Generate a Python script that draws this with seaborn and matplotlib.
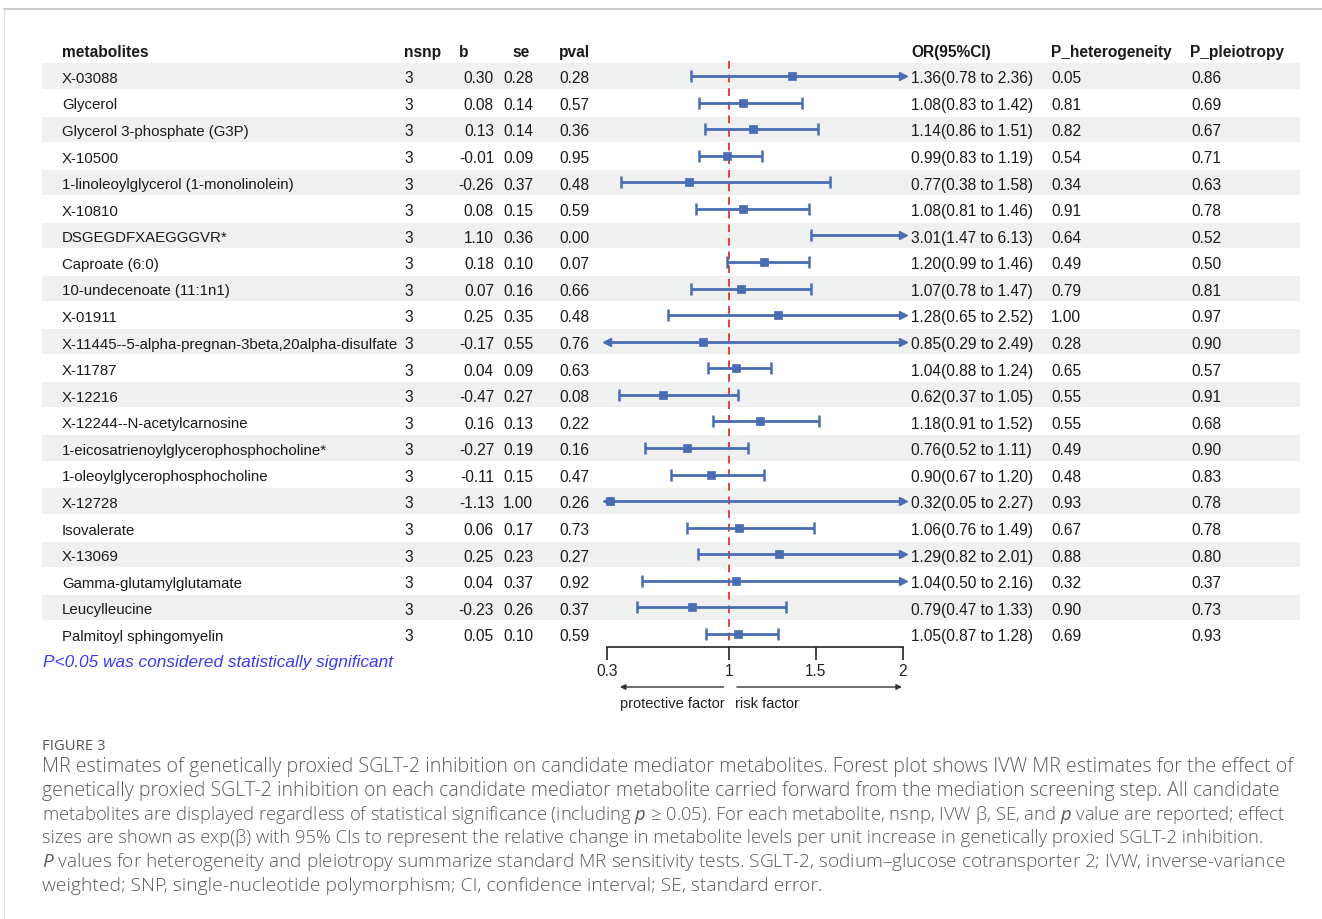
import matplotlib.pyplot as plt
import seaborn as sns
import pandas as pd
from matplotlib.lines import Line2D

metabolites = ["X-03088", "Glycerol", "Glycerol 3-phosphate (G3P)", "X-10500",
               "1-linoleoylglycerol (1-monolinolein)", "X-10810", "DSGEGDFXAEGGGVR*",
               "Caproate (6:0)", "10-undecenoate (11:1n1)", "X-01911",
               "X-11445--5-alpha-pregnan-3beta,20alpha-disulfate", "X-11787", "X-12216",
               "X-12244--N-acetylcarnosine", "1-eicosatrienoylglycerophosphocholine*",
               "1-oleoylglycerophosphocholine", "X-12728", "Isovalerate", "X-13069",
               "Gamma-glutamylglutamate", "Leucylleucine", "Palmitoyl sphingomyelin"]
nsnp = [3, 3, 3, 3, 3, 3, 3, 3, 3, 3, 3, 3, 3, 3, 3, 3, 3, 3, 3, 3, 3, 3]
b = [0.30, 0.08, 0.13, -0.01, -0.26, 0.08, 1.10, 0.18, 0.07, 0.25, -0.17,
     0.04, -0.47, 0.16, -0.27, -0.11, -1.13, 0.06, 0.25, 0.04, -0.23, 0.05]
se = [0.28, 0.14, 0.14, 0.09, 0.37, 0.15, 0.36, 0.10, 0.16, 0.35, 0.55,
      0.09, 0.27, 0.13, 0.19, 0.15, 1.00, 0.17, 0.23, 0.37, 0.26, 0.10]
pval = [0.28, 0.57, 0.36, 0.95, 0.48, 0.59, 0.00, 0.07, 0.66, 0.48, 0.76,
        0.63, 0.08, 0.22, 0.16, 0.47, 0.26, 0.73, 0.27, 0.92, 0.37, 0.59]
or_est = [1.36, 1.08, 1.14, 0.99, 0.77, 1.08, 3.01, 1.20, 1.07, 1.28, 0.85,
          1.04, 0.62, 1.18, 0.76, 0.90, 0.32, 1.06, 1.29, 1.04, 0.79, 1.05]
or_low = [0.78, 0.83, 0.86, 0.83, 0.38, 0.81, 1.47, 0.99, 0.78, 0.65, 0.29,
          0.88, 0.37, 0.91, 0.52, 0.67, 0.05, 0.76, 0.82, 0.50, 0.47, 0.87]
or_high = [2.36, 1.42, 1.51, 1.19, 1.58, 1.46, 6.13, 1.46, 1.47, 2.52, 2.49,
           1.24, 1.05, 1.52, 1.11, 1.20, 2.27, 1.49, 2.01, 2.16, 1.33, 1.28]
p_het = [0.05, 0.81, 0.82, 0.54, 0.34, 0.91, 0.64, 0.49, 0.79, 1.00, 0.28,
         0.65, 0.55, 0.55, 0.49, 0.48, 0.93, 0.67, 0.88, 0.32, 0.90, 0.69]
p_pleio = [0.86, 0.69, 0.67, 0.71, 0.63, 0.78, 0.52, 0.50, 0.81, 0.97, 0.90,
           0.57, 0.91, 0.68, 0.90, 0.83, 0.78, 0.78, 0.80, 0.37, 0.73, 0.93]
x_ticks = [0.3, 1, 1.5, 2]
x_tick_labels = ["0.3", "1", "1.5", "2"]

caption = [
    "MR estimates of genetically proxied SGLT-2 inhibition on candidate mediator metabolites. Forest plot shows IVW MR estimates for the effect of",
    "genetically proxied SGLT-2 inhibition on each candidate mediator metabolite carried forward from the mediation screening step. All candidate",
    "metabolites are displayed regardless of statistical significance (including $p$ \u2265 0.05). For each metabolite, nsnp, IVW \u03b2, SE, and $p$ value are reported; effect",
    "sizes are shown as exp(\u03b2) with 95% CIs to represent the relative change in metabolite levels per unit increase in genetically proxied SGLT-2 inhibition.",
    "$P$ values for heterogeneity and pleiotropy summarize standard MR sensitivity tests. SGLT-2, sodium\u2013glucose cotransporter 2; IVW, inverse-variance",
    "weighted; SNP, single-nucleotide polymorphism; CI, confidence interval; SE, standard error.",
]
# right edge (px) of each caption line in the reference
caption_right = [1287, 1278, 1289, 1257, 1289, 818]

sns.set_theme(style="white")
plt.rcParams["font.family"] = ["Liberation Sans", "DejaVu Sans"]
plt.rcParams["mathtext.fontset"] = "custom"
plt.rcParams["mathtext.it"] = "Open Sans:italic"
plt.rcParams["mathtext.rm"] = "Open Sans"

df = pd.DataFrame({"name": metabolites, "nsnp": nsnp, "b": b, "se": se, "pval": pval,
                   "or_est": or_est, "or_low": or_low, "or_high": or_high,
                   "p_het": p_het, "p_pleio": p_pleio})
df["row"] = range(len(df))

W, H = 1322, 920
fig = plt.figure(figsize=(W / 100, H / 100), dpi=100)
fig.patch.set_facecolor("white")

# rows: centre of row 0 at 77px, pitch 26.57px
pitch = 26.57
top_px = 77 - 1.5 * pitch
bot_px = 77 + 21.5 * pitch
ax_bottom = 1 - bot_px / H
ax_height = (bot_px - top_px) / H

ylim = (len(df) - 0.5, -1.5)

# table axes, x in pixels
axt = fig.add_axes([0, ax_bottom, 1, ax_height], zorder=0)
axt.set_xlim(0, W)
axt.set_ylim(*ylim)
axt.axis("off")

shade = df[df["row"] % 2 == 0]
axt.barh(shade["row"], 1258, left=42, height=0.95, color="#eff1f1", linewidth=0)

fs = 11.2
fs_name = 10.8
txt = "#1a1a1a"
dy = 0.07  # text sits a touch lower than the row centre
headers = [("metabolites", 62), ("nsnp", 404), ("b", 459), ("se", 512), ("pval", 559),
           ("OR(95%CI)", 911), ("P_heterogeneity", 1051), ("P_pleiotropy", 1190)]
for label, x in headers:
    axt.text(x, -1 + dy, label, ha="left", va="center", fontsize=fs,
             fontweight="bold", color=txt)

for _, r in df.iterrows():
    y = r["row"] + dy
    axt.text(62, y, r["name"], ha="left", va="center", fontsize=fs_name, color=txt)
    axt.text(404, y, f"{r['nsnp']}", ha="left", va="center", fontsize=fs, color=txt)
    axt.text(494, y, f"{r['b']:.2f}", ha="right", va="center", fontsize=fs, color=txt)
    axt.text(533, y, f"{r['se']:.2f}", ha="right", va="center", fontsize=fs, color=txt)
    axt.text(559, y, f"{r['pval']:.2f}", ha="left", va="center", fontsize=fs, color=txt)
    axt.text(911, y, f"{r['or_est']:.2f}({r['or_low']:.2f} to {r['or_high']:.2f})",
             ha="left", va="center", fontsize=fs, color=txt)
    axt.text(1051, y, f"{r['p_het']:.2f}", ha="left", va="center", fontsize=fs, color=txt)
    axt.text(1191, y, f"{r['p_pleio']:.2f}", ha="left", va="center", fontsize=fs, color=txt)

# forest axes
xmin, xmax = 0.3, 2.0
axf = fig.add_axes([607 / W, ax_bottom, (903 - 607) / W, ax_height], zorder=1)
axf.patch.set_alpha(0)
blue = "#4a6cb3"

df["lo_c"] = df["or_low"].clip(lower=xmin)
df["hi_c"] = df["or_high"].clip(upper=xmax)

axf.vlines(1, -0.55, len(df) - 0.5, colors="#e8403c", linestyles=(0, (4, 3)), lw=1.4, zorder=1)
axf.hlines(df["row"], df["lo_c"], df["hi_c"], colors=blue, lw=2, zorder=2)

cap_lo = df[df["or_low"] >= xmin]
cap_hi = df[df["or_high"] <= xmax]
axf.plot(cap_lo["or_low"], cap_lo["row"], ls="none", marker="|", ms=9, mew=1.8,
         color=blue, clip_on=False, zorder=3)
axf.plot(cap_hi["or_high"], cap_hi["row"], ls="none", marker="|", ms=9, mew=1.8,
         color=blue, clip_on=False, zorder=3)

arr_lo = df[df["or_low"] < xmin]
arr_hi = df[df["or_high"] > xmax]
axf.plot(arr_lo["lo_c"], arr_lo["row"], ls="none", marker="<", ms=6, color=blue,
         clip_on=False, zorder=3)
axf.plot(arr_hi["hi_c"], arr_hi["row"], ls="none", marker=">", ms=6, color=blue,
         clip_on=False, zorder=3)

inside = df[(df["or_est"] >= xmin) & (df["or_est"] <= xmax)]
sns.scatterplot(data=inside, x="or_est", y="row", marker="s", s=32, color=blue,
                edgecolor=blue, linewidth=0.5, ax=axf, zorder=4, clip_on=False)

axf.set_xlim(xmin, xmax)
axf.set_ylim(*ylim)
axf.set_xlabel("")
axf.set_ylabel("")
axf.set_yticks([])
axf.set_xticks(x_ticks)
axf.set_xticklabels(x_tick_labels)
for s in ["top", "left", "right"]:
    axf.spines[s].set_visible(False)
axf.spines["bottom"].set_color("#222222")
axf.spines["bottom"].set_linewidth(1.2)
axf.tick_params(axis="x", direction="out", length=9, width=1.2, pad=2,
                labelsize=11.2, colors="#222222", bottom=True)

# direction arrows under the axis
arr_y = -(688 - bot_px) / (bot_px - top_px)
lab_y = -(704 - bot_px) / (bot_px - top_px)
trans = axf.get_xaxis_transform()
axf.annotate("", xy=(0.358, arr_y), xytext=(0.985, arr_y), xycoords=trans,
             arrowprops=dict(arrowstyle="-|>", color="#333333", lw=1, mutation_scale=8),
             annotation_clip=False)
axf.annotate("", xy=(2.01, arr_y), xytext=(1.03, arr_y), xycoords=trans,
             arrowprops=dict(arrowstyle="-|>", color="#333333", lw=1, mutation_scale=8),
             annotation_clip=False)
axf.text(0.975, lab_y, "protective factor", transform=trans, ha="right", va="center",
         fontsize=10.5, color="#222222")
axf.text(1.035, lab_y, "risk factor", transform=trans, ha="left", va="center",
         fontsize=10.5, color="#222222")

fig.text(43 / W, 1 - 663 / H, "P<0.05 was considered statistically significant",
         ha="left", va="center", fontsize=12.4, style="italic", color="#3b3bf3")

# page border and caption
fig.add_artist(Line2D([4 / W, 1], [1 - 9.5 / H] * 2, transform=fig.transFigure,
                      color="#cccccc", lw=1.5))
fig.add_artist(Line2D([4 / W, 4 / W], [1 - 9.5 / H, 0], transform=fig.transFigure,
                      color="#e2e2e2", lw=0.8))

cap_family = ["Open Sans", "DejaVu Sans"]
fig.text(42 / W, 1 - 747 / H, "FIGURE 3", ha="left", va="center", fontsize=10.7,
         color="#555555", family=cap_family)

# size each caption line so it ends where the reference line ends
renderer = fig.canvas.get_renderer()
base = 13.6
for i, (line, right) in enumerate(zip(caption, caption_right)):
    t = fig.text(42 / W, 1 - (767 + 23.8 * i) / H, line, ha="left", va="center",
                 fontsize=base, color="#5a5a5a", family=cap_family, fontweight="light")
    width = t.get_window_extent(renderer).width
    t.set_fontsize(min(max(base * (right - 42) / width, 13.0), 14.2))

fig.savefig("out.png", dpi=100, facecolor="white")
